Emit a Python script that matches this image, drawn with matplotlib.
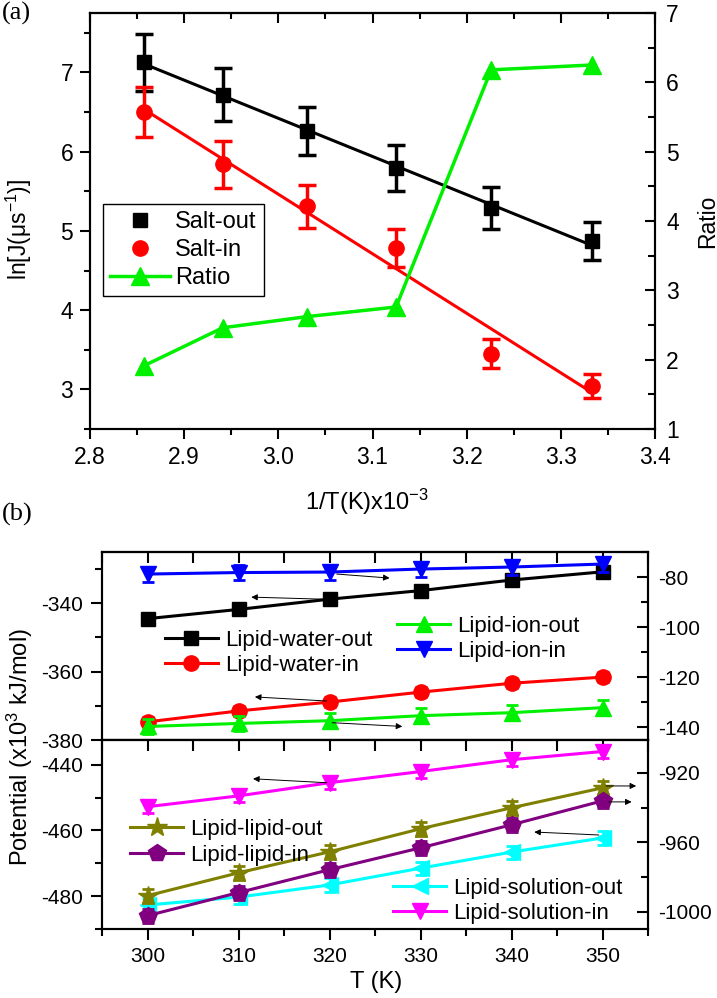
import numpy as np
import matplotlib
matplotlib.use('Agg')
import matplotlib.pyplot as plt
from matplotlib.ticker import MultipleLocator
from matplotlib.lines import Line2D

plt.rcParams['font.family'] = ['Liberation Sans', 'DejaVu Sans']
plt.rcParams['mathtext.fontset'] = 'custom'
plt.rcParams['mathtext.rm'] = 'Liberation Sans'
plt.rcParams['mathtext.it'] = 'Liberation Sans:italic'
plt.rcParams['mathtext.default'] = 'regular'
plt.rcParams['axes.unicode_minus'] = False

# ---------------- data: panel (a) ----------------
inv_T = [2.857, 2.941, 3.030, 3.125, 3.226, 3.333]
salt_out = [7.13, 6.72, 6.26, 5.79, 5.29, 4.87]
salt_out_err = [0.36, 0.33, 0.30, 0.29, 0.27, 0.24]
salt_in = [6.50, 5.84, 5.31, 4.79, 3.45, 3.04]
salt_in_err = [0.32, 0.30, 0.27, 0.24, 0.18, 0.15]
ratio = [1.91, 2.46, 2.62, 2.76, 6.18, 6.25]

# ---------------- data: panel (b) ----------------
T = [300, 310, 320, 330, 340, 350]
water_out = [-344.5, -341.8, -338.8, -336.3, -333.2, -330.8]
water_in = [-374.7, -371.5, -368.9, -366.0, -363.4, -361.6]
ion_out = [-139.6, -138.4, -137.3, -135.3, -134.1, -132.1]
ion_in = [-78.8, -78.2, -78.0, -76.8, -76.0, -74.8]
lipid_out = [-990.8, -977.6, -965.5, -952.2, -940.1, -928.6]
lipid_in = [-1002.3, -989.0, -975.8, -963.2, -949.9, -936.1]
sol_out = [-482.7, -480.3, -476.6, -471.5, -466.6, -462.3]
sol_in = [-452.8, -449.5, -445.5, -442.1, -438.5, -436.0]
err_water = 1.5
err_ion = 3.0
err_sol = 2.0
err_lipid = 4.0

# arrows (tail -> head) in data coords of the axis they point to
arrows_top_left = [((319.2, -338.8), (311.4, -338.2)), ((319.7, -368.6), (311.8, -367.4))]
arrows_top_right = [((320.8, -78.8), (326.6, -80.4)), ((320.3, -138.1), (328.0, -139.6))]
arrows_bot_left = [((319.7, -445.5), (311.6, -444.3)), ((349.6, -461.4), (342.5, -460.5))]
arrows_bot_right = [((350.4, -927.5), (353.7, -927.5)), ((350.7, -936.7), (353.2, -936.7))]

GREEN = '#00F000'
W, H = 717, 998
fig = plt.figure(figsize=(W / 100, H / 100), dpi=100)

SPW = 1.5


def style_spines(ax):
    for s in ax.spines.values():
        s.set_linewidth(SPW)


def top_ticks(ax, major, minor, length=7, mlength=4):
    sec = ax.secondary_xaxis('top')
    sec.xaxis.set_major_locator(MultipleLocator(major))
    sec.xaxis.set_minor_locator(MultipleLocator(minor))
    sec.tick_params(which='both', direction='in', labeltop=False, width=SPW)
    sec.tick_params(which='major', length=length)
    sec.tick_params(which='minor', length=mlength)
    sec.spines['top'].set_linewidth(SPW)
    return sec


# ================= panel (a) =================
axa = fig.add_axes([90 / W, 1 - 429 / H, 565 / W, 416 / H])
axa2 = axa.twinx()
style_spines(axa)
style_spines(axa2)

axa.errorbar(inv_T, salt_out, yerr=salt_out_err, fmt='s', color='black', ms=10,
             elinewidth=2.5, capsize=6.5, capthick=2.5, zorder=3)
axa.errorbar(inv_T, salt_in, yerr=salt_in_err, fmt='o', color='red', ms=11,
             elinewidth=2.5, capsize=6.5, capthick=2.5, zorder=3)
p_out = np.polyfit(inv_T, salt_out, 1)
p_in = np.polyfit(inv_T, salt_in, 1)
xfit = np.array([inv_T[0], inv_T[-1]])
axa.plot(xfit, np.polyval(p_out, xfit), color='black', lw=2.2, zorder=2)
axa.plot(xfit, np.polyval(p_in, xfit), color='red', lw=2.2, zorder=2)

axa2.plot(inv_T, ratio, '-^', color=GREEN, lw=2.5, ms=13)

axa.set_xlim(2.8, 3.4)
axa.set_ylim(2.5, 7.75)
axa2.set_ylim(1, 7)
axa.xaxis.set_major_locator(MultipleLocator(0.1))
axa.xaxis.set_minor_locator(MultipleLocator(0.05))
axa.yaxis.set_major_locator(MultipleLocator(1))
axa.yaxis.set_minor_locator(MultipleLocator(0.5))
axa2.yaxis.set_major_locator(MultipleLocator(1))
axa2.yaxis.set_minor_locator(MultipleLocator(0.5))
axa.xaxis.set_major_formatter(matplotlib.ticker.FormatStrFormatter('%.1f'))

axa.tick_params(which='both', direction='out', width=SPW, labelsize=16.5, pad=5)
axa.tick_params(which='major', length=7)
axa.tick_params(which='minor', length=4)
axa2.tick_params(which='both', direction='in', width=SPW, labelsize=16.5, pad=8)
axa2.tick_params(which='major', length=7)
axa2.tick_params(which='minor', length=5)
top_ticks(axa, 0.1, 0.05)

axa.set_ylabel(u'ln[J(\u03bcs$^{-1}$)]', fontsize=16.5)
axa.yaxis.set_label_coords(-0.100, 0.48)
axa2.set_ylabel('Ratio', fontsize=16.5)
axa2.yaxis.set_label_coords(1.072, 0.50)
axa.set_xlabel('1/T(K)x10$^{-3}$', fontsize=17)
axa.xaxis.set_label_coords(0.49, -0.140)

h_a = [Line2D([], [], marker='s', ls='none', color='black', ms=10),
       Line2D([], [], marker='o', ls='none', color='red', ms=11),
       Line2D([], [], marker='^', ls='-', lw=2.5, color=GREEN, ms=13)]
lega = axa2.legend(h_a, ['Salt-out', 'Salt-in', 'Ratio'], loc='upper left',
                   bbox_to_anchor=((103 - 90) / 565, (429 - 204) / 416),
                   borderaxespad=0, fontsize=17, fancybox=False, framealpha=1,
                   edgecolor='black', handlelength=2.55, handletextpad=0.2,
                   labelspacing=0.25, borderpad=0.3)
lega.get_frame().set_linewidth(1.0)

fig.text(2 / W, 1 - 2 / H, '(a)', family=['Liberation Serif', 'DejaVu Serif'],
         fontsize=19, va='top', ha='left')
fig.text(2 / W, 1 - 503 / H, '(b)', family=['Liberation Serif', 'DejaVu Serif'],
         fontsize=19, va='top', ha='left')

# ================= panel (b) =================
LW = 2.2
EB = dict(elinewidth=2.0, capsize=4, capthick=2.0)

axt = fig.add_axes([102 / W, 1 - 740 / H, 546 / W, 188 / H])
axt2 = axt.twinx()
axb = fig.add_axes([102 / W, 1 - 929 / H, 546 / W, 189 / H])
axb2 = axb.twinx()
for ax in (axt, axt2, axb, axb2):
    style_spines(ax)

c1 = axt.errorbar(T, water_out, yerr=err_water, fmt='-s', color='black', ms=10, lw=LW, **EB)
c2 = axt.errorbar(T, water_in, yerr=err_water, fmt='-o', color='red', ms=11, lw=LW, **EB)
c3 = axt2.errorbar(T, ion_out, yerr=err_ion, fmt='-^', color=GREEN, ms=12, lw=LW, **EB)
c4 = axt2.errorbar(T, ion_in, yerr=err_ion, fmt='-v', color='blue', ms=12, lw=LW, **EB)

c5 = axb2.errorbar(T, lipid_out, yerr=err_lipid, fmt='-*', color='#808000', ms=15, lw=LW, **EB)
c6 = axb2.errorbar(T, lipid_in, yerr=err_lipid, fmt='-p', color='#800080', ms=13, lw=LW, **EB)
c7 = axb.errorbar(T, sol_out, yerr=err_sol, fmt='-<', color='#00FFFF', ms=12, lw=LW, **EB)
c8 = axb.errorbar(T, sol_in, yerr=err_sol, fmt='-v', color='#FF00FF', ms=12, lw=LW, **EB)

for ax in (axt, axb):
    ax.set_xlim(295, 355)
    ax.xaxis.set_major_locator(MultipleLocator(10))
    ax.xaxis.set_minor_locator(MultipleLocator(5))
    top_ticks(ax, 10, 5, length=8, mlength=8)

axt.set_ylim(-380, -325)
axt2.set_ylim(-145, -70)
axb.set_ylim(-490, -432.5)
axb2.set_ylim(-1010, -901)
axt.yaxis.set_major_locator(MultipleLocator(20))
axt.yaxis.set_minor_locator(MultipleLocator(10))
axt2.yaxis.set_major_locator(MultipleLocator(20))
axt2.yaxis.set_minor_locator(MultipleLocator(10))
axb.yaxis.set_major_locator(MultipleLocator(20))
axb.yaxis.set_minor_locator(MultipleLocator(10))
axb2.yaxis.set_major_locator(MultipleLocator(40))
axb2.yaxis.set_minor_locator(MultipleLocator(20))

for ax in (axt, axb):
    ax.tick_params(axis='y', which='both', direction='out', width=SPW, labelsize=15, pad=6)
    ax.tick_params(axis='y', which='major', length=8)
    ax.tick_params(axis='y', which='minor', length=5)
for ax in (axt2, axb2):
    ax.tick_params(axis='y', which='both', direction='in', width=SPW, labelsize=15, pad=7)
    ax.tick_params(axis='y', which='major', length=8)
    ax.tick_params(axis='y', which='minor', length=5)
axt.tick_params(axis='x', which='both', bottom=False, labelbottom=False)
axb.tick_params(axis='x', which='both', direction='out', width=SPW, labelsize=15, pad=5)
axb.tick_params(axis='x', which='major', length=8)
axb.tick_params(axis='x', which='minor', length=5)

AP = dict(arrowstyle='-|>', color='black', lw=0.7, mutation_scale=9, shrinkA=0, shrinkB=0)
for ax, arr in ((axt, arrows_top_left), (axt2, arrows_top_right),
                (axb, arrows_bot_left), (axb2, arrows_bot_right)):
    for tail, head in arr:
        ax.annotate('', xy=head, xytext=tail, arrowprops=AP, zorder=5)

LEGB = dict(frameon=False, fontsize=16, handlelength=2.4, handletextpad=0.3,
            labelspacing=0.2, borderpad=0, borderaxespad=0, loc='center left')
l1 = axt2.legend([c1.lines[0], c2.lines[0]], ['Lipid-water-out', 'Lipid-water-in'],
                 bbox_to_anchor=(0.115, 0.463), **LEGB)
axt2.add_artist(l1)
l2 = axt2.legend([c3.lines[0], c4.lines[0]], ['Lipid-ion-out', 'Lipid-ion-in'],
                 bbox_to_anchor=(0.540, 0.537), **LEGB)
l3 = axb2.legend([c5.lines[0], c6.lines[0]], ['Lipid-lipid-out', 'Lipid-lipid-in'],
                 bbox_to_anchor=(0.051, 0.458), **LEGB)
axb2.add_artist(l3)
l4 = axb2.legend([c7.lines[0], c8.lines[0]], ['Lipid-solution-out', 'Lipid-solution-in'],
                 bbox_to_anchor=(0.533, 0.148), **LEGB)

fig.text(20 / W, 1 - 747 / H, 'Potential (x10$^{3}$ kJ/mol)', rotation=90,
         fontsize=17, ha='center', va='center')
fig.text(376 / W, 1 - 982 / H, 'T (K)', fontsize=17, ha='center', va='center')

fig.savefig('out.png', dpi=100)
